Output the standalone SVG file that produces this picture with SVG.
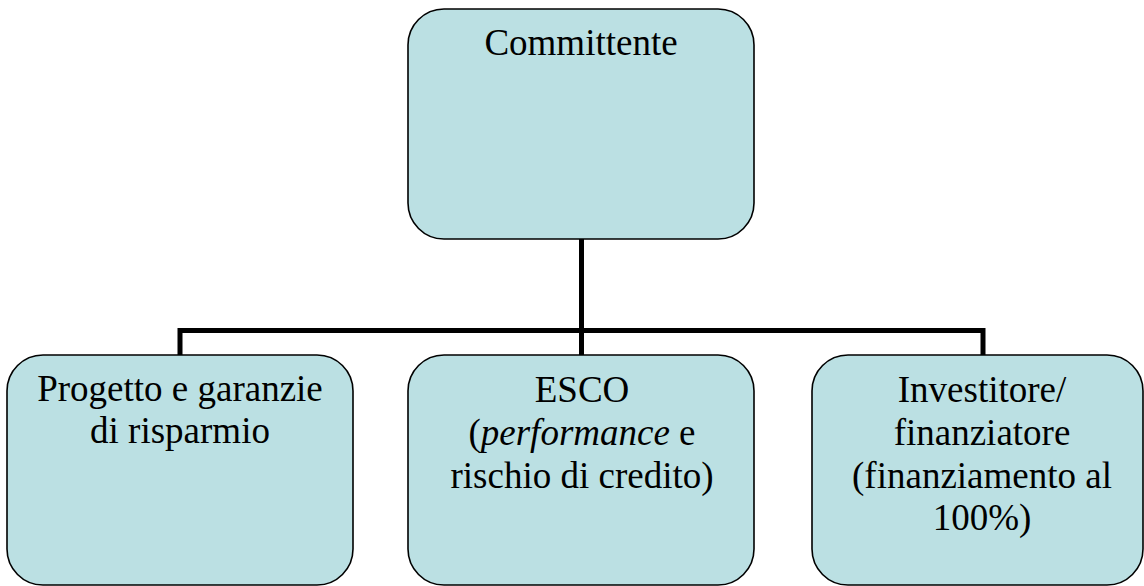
<svg xmlns="http://www.w3.org/2000/svg" width="1144" height="586" viewBox="0 0 1144 586">
  <style>
    .box { fill: #BBE0E3; stroke: #000000; stroke-width: 1.6; }
    .lbl { font-family: "Liberation Serif", "Times New Roman", serif; font-size: 37px; fill: #000000; text-anchor: middle; }
    .wire { fill: none; stroke: #000000; stroke-width: 5; stroke-linecap: butt; stroke-linejoin: miter; }
  </style>
  <rect width="1144" height="586" fill="#FFFFFF"/>

  <!-- connectors: trunk from the root down to a bus, then drops to each child -->
  <g id="connectors">
    <path class="wire" d="M581.5,239 V330.5"/>
    <path class="wire" d="M180,355 V330.5 H983 V355"/>
    <path class="wire" d="M581.5,330.5 V355"/>
  </g>

  <g id="node-committente">
    <rect class="box" x="408" y="9" width="346" height="230" rx="36" ry="36"/>
    <text class="lbl" x="581" y="55">Committente</text>
  </g>

  <g id="node-progetto">
    <rect class="box" x="7" y="355" width="346" height="230" rx="36" ry="36"/>
    <text class="lbl" x="180" y="401">Progetto e garanzie</text>
    <text class="lbl" x="180" y="443">di risparmio</text>
  </g>

  <g id="node-esco">
    <rect class="box" x="408" y="355" width="346" height="230" rx="36" ry="36"/>
    <text class="lbl" x="582" y="402">ESCO</text>
    <text class="lbl" x="582" y="445">(<tspan font-style="italic">performance</tspan> e</text>
    <text class="lbl" x="582" y="488">rischio di credito)</text>
  </g>

  <g id="node-investitore">
    <rect class="box" x="812" y="355" width="331" height="230" rx="36" ry="36"/>
    <text class="lbl" x="982" y="402">Investitore/</text>
    <text class="lbl" x="982" y="445">finanziatore</text>
    <text class="lbl" x="982" y="488">(finanziamento al</text>
    <text class="lbl" x="982" y="530">100%)</text>
  </g>
</svg>
